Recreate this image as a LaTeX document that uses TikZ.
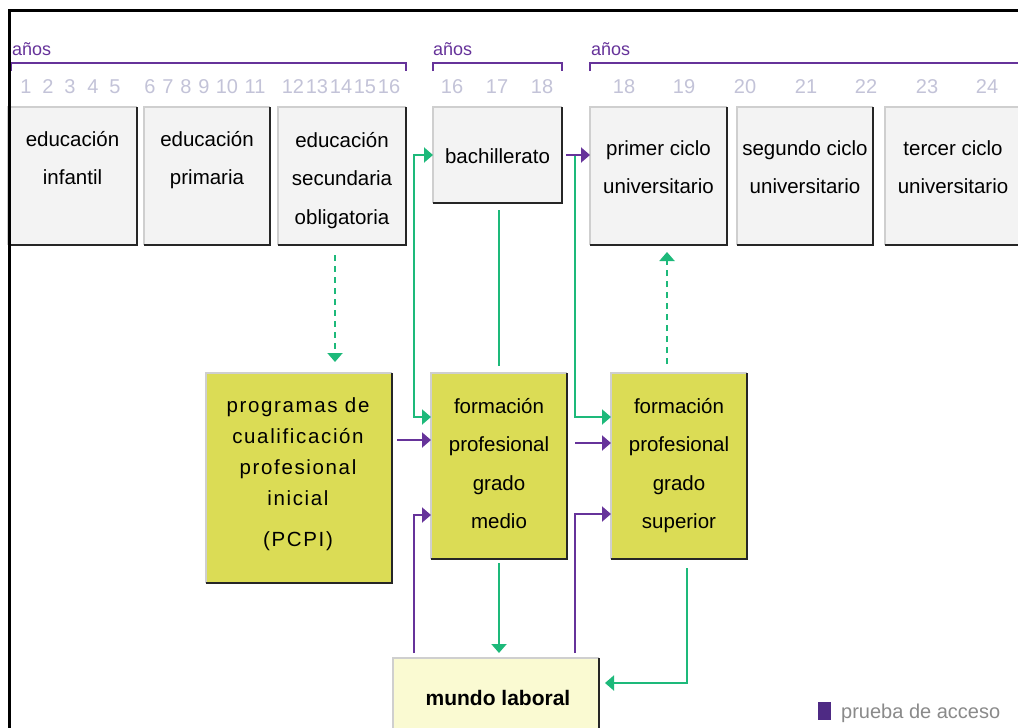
\documentclass[tikz,border=0pt]{standalone}
\usepackage{fontspec}
\setmainfont{Liberation Sans}
\newfontfamily\spacedfont[LetterSpace=8]{Liberation Sans}
\usetikzlibrary{arrows.meta}
\definecolor{purp}{HTML}{66339A}
\definecolor{legsq}{HTML}{4E2A84}
\definecolor{grn}{HTML}{1DB97A}
\definecolor{fpyel}{HTML}{DBDC55}
\definecolor{boxgray}{HTML}{F3F3F3}
\definecolor{numgray}{HTML}{C3C3D8}
\definecolor{lightedge}{HTML}{CFCFCF}
\definecolor{mundofill}{HTML}{FAFAD2}
\definecolor{legendtxt}{HTML}{8A8A8A}
\newcommand\boxedges[1]{%
  \draw[lightedge, line width=1.2pt] (#1.south west) -- (#1.north west) -- (#1.north east);
  \draw[black!85, line width=2pt] (#1.north east) -- (#1.south east) -- (#1.south west);}
\tikzset{
  box/.style={inner sep=0pt, outer sep=0pt},
  gbox/.style={box, fill=boxgray},
  ybox/.style={box, fill=fpyel},
  txt/.style={font=\fontsize{20.5}{38.5}\selectfont, align=center, inner sep=0pt, anchor=base},
  num/.style={font=\fontsize{20}{24}\selectfont, text=numgray, inner sep=0pt, anchor=base},
  anos/.style={font=\fontsize{18}{22}\selectfont, text=purp, inner sep=0pt, anchor=base west},
  brk/.style={draw=purp, line width=2pt},
  gline/.style={draw=grn, line width=2pt},
  pline/.style={draw=purp, line width=2pt},
  gdash/.style={draw=grn, line width=2pt, dash pattern=on 6pt off 5pt},
  arr/.style={-{Triangle[length=9pt,width=15pt]}},
  arr2/.style={{Triangle[length=9pt,width=15pt]}-{Triangle[length=9pt,width=15pt]}},
}
\begin{document}
\begin{tikzpicture}[x=1pt,y=-1pt]
\useasboundingbox (0,0) rectangle (1018,728);
\clip (0,0) rectangle (1018,728);
\fill[white] (0,0) rectangle (1018,728);

% year labels and brackets
\node[anos] (a1) at (12,55) {años};
\node[anos] (a2) at (433,55) {años};
\node[anos] (a3) at (591,55) {años};
\draw[brk] (11,71) -- (11,63) -- (406,63) -- (406,71);
\draw[brk] (433,71) -- (433,63) -- (562,63) -- (562,71);
\draw[brk] (590,71) -- (590,63) -- (1020,63);

% numbers
\foreach \n/\x in {1/26,2/48,3/70,4/93,5/115,6/150,7/168,8/186,9/204,10/227,11/255,
  12/293,13/317,14/341,15/365,16/389,
  16/452,17/497,18/542,
  18/624,19/684,20/745,21/806,22/866,23/927,24/987}
  \node[num] (n\n-\x) at (\x,93) {\n};

% top row boxes
\node[gbox, minimum width=129, minimum height=138] (inf) at (72.5,176) {};
\node[gbox, minimum width=126, minimum height=138] (pri) at (207,176) {};
\node[gbox, minimum width=128, minimum height=138] (sec) at (342,176) {};
\node[gbox, minimum width=129, minimum height=96] (bach) at (497.5,155) {};
\node[gbox, minimum width=137, minimum height=138] (u1) at (658.5,176) {};
\node[gbox, minimum width=136, minimum height=138] (u2) at (805,176) {};
\node[gbox, minimum width=136, minimum height=138] (u3) at (953,176) {};
\foreach \b in {inf,pri,sec,bach,u1,u2,u3} {\boxedges{\b}}

% (anchor=base is the baseline of the last line)
\node[txt] (tinf) at (72.5,184.5) {educación\\infantil};
\node[txt] (tpri) at (207,184.5) {educación\\primaria};
\node[txt] (tsec) at (342,224) {educación\\secundaria\\obligatoria};
\node[txt] (tbach) at (497.5,163) {bachillerato};
\node[txt] (tu1) at (658.5,193.5) {primer ciclo\\universitario};
\node[txt] (tu2) at (805,193.5) {segundo ciclo\\universitario};
\node[txt] (tu3) at (953,193.5) {tercer ciclo\\universitario};

% middle row
\node[ybox, minimum width=186, minimum height=210] (pcpi) at (299,478) {};
\node[ybox, minimum width=136, minimum height=186] (fpm) at (499,466) {};
\node[ybox, minimum width=136, minimum height=186] (fps) at (679,466) {};
\foreach \b in {pcpi,fpm,fps} {\boxedges{\b}}
\node[txt, font=\spacedfont\fontsize{20.5}{31}\selectfont] (tpcpi) at (298,546)
  {programas de\\cualificación\\profesional\\inicial\\[10pt](PCPI)};
\node[txt] (tfpm) at (499,528.5) {formación\\profesional\\grado\\medio};
\node[txt] (tfps) at (679,528.5) {formación\\profesional\\grado\\superior};

% mundo laboral
\node[box, fill=mundofill, minimum width=206, minimum height=82] (mundo) at (496,699) {};
\boxedges{mundo}
\node[txt, font=\bfseries\fontsize{21}{26}\selectfont] (tmundo) at (498,705) {mundo laboral};

% legend
\node[box, fill=legsq, minimum width=13, minimum height=18] (legsq) at (824.5,711) {};
\node[inner sep=0pt, anchor=base west, text=legendtxt, font=\fontsize{20}{24}\selectfont] (legtxt) at (841,718) {prueba de acceso};

% frame
\draw[black, line width=3pt] (9,740) -- (9,10) -- (1025,10);

% connectors
\draw[gline, arr2] (bach.west) -- ++(-19,0) |- ([yshift=-44pt]fpm.north west);
\coordinate (gb) at ([xshift=13pt]bach.east);
\draw[gline, arr] (gb) |- ([yshift=-44pt]fps.north west);
\draw[pline, arr] ([xshift=4pt]bach.east) -- (bach.east -| u1.west);
\draw[pline, arr] ([xshift=5pt,yshift=-67pt]pcpi.north east) -- ([yshift=-67pt]fpm.north west);
\draw[pline, arr] ([xshift=8pt,yshift=-70pt]fpm.north east) -- ([yshift=-70pt]fps.north west);
\draw[pline, arr] ([xshift=21pt,yshift=5pt]mundo.north west) |- ([yshift=-142pt]fpm.north west);
\draw[pline, arr] ([xshift=-24pt,yshift=5pt]mundo.north east) |- ([yshift=-141pt]fps.north west);
\coordinate (m1) at ([yshift=5pt]mundo.north);
\draw[gline, arr] ([yshift=-4pt]fpm.south) -- (fpm.south |- m1);
\draw[gline, arr] ([xshift=8pt,yshift=-9pt]fps.south) |- ([xshift=6pt,yshift=-25pt]mundo.north east);
\coordinate (b1) at ([yshift=-7pt]bach.south);
\draw[gline] (b1 -| fpm.north) -- ([yshift=7pt]fpm.north);
\coordinate (d1) at ([xshift=-7pt,yshift=-10pt]sec.south);
\coordinate (d2) at ([yshift=11pt]pcpi.north);
\draw[gdash, arr] (d1) -- (d1 |- d2);
\coordinate (d3) at ([xshift=-12pt,yshift=9pt]fps.north);
\coordinate (d4) at ([yshift=-7pt]u1.south);
\draw[gdash, arr] (d3) -- (d3 |- d4);
\end{tikzpicture}
\end{document}
